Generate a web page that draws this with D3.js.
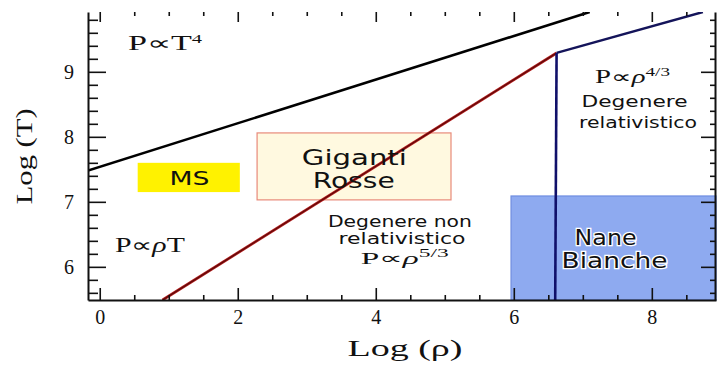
<!DOCTYPE html>
<html>
<head>
<meta charset="utf-8">
<script src="https://cdn.jsdelivr.net/npm/d3@7"></script>
<style>
  body { margin: 0; background: #fff; }
</style>
</head>
<body>
<div id="content"></div>
<script>
// axis extent (log rho, log T)
var rhoExtent = [-0.17, 8.93];
var tExtent = [5.49, 9.92];
var rhoTicks = [0, 2, 4, 6, 8];
var tTicks = [6, 7, 8, 9];

// boundary lines: [log rho, log T]
var radLine = [[-0.17, 7.48], [7.1, 9.92]];
var nonRelLine = [[0.91, 5.49], [6.62, 9.29]];
var relLine = [[6.62, 9.29], [8.74, 9.92]];
var wdLine = [[6.62, 9.29], [6.60, 5.49]];

// regions: rho0, rho1, t0, t1
var msBox = [0.55, 2.03, 7.15, 7.60];
var rgBox = [2.28, 5.09, 7.03, 8.06];
var wdBox = [5.96, 8.93, 5.49, 7.09];

var SERIF = '"Liberation Serif", "Times New Roman", serif';
var SANS = '"DejaVu Sans", Verdana, sans-serif';

var width = 717, height = 365;
var pad = { left: 88, right: 1, top: 12, bottom: 65 };

var svg = d3.select("#content").append("svg")
    .attr("width", width)
    .attr("height", height);

var x = d3.scaleLinear().domain(rhoExtent).range([pad.left, width - pad.right]);
var y = d3.scaleLinear().domain(tExtent).range([height - pad.bottom, pad.top]);

svg.append("clipPath").attr("id", "plot")
    .append("rect")
    .attr("x", x(rhoExtent[0])).attr("y", y(tExtent[1]))
    .attr("width", x(rhoExtent[1]) - x(rhoExtent[0]))
    .attr("height", y(tExtent[0]) - y(tExtent[1]));

function fit(sel, w) {
    sel.attr("textLength", w).attr("lengthAdjust", "spacingAndGlyphs");
    return sel;
}

function box(b, fill, stroke) {
    svg.append("rect")
        .attr("x", x(b[0])).attr("y", y(b[3]))
        .attr("width", x(b[1]) - x(b[0]))
        .attr("height", y(b[2]) - y(b[3]))
        .attr("fill", fill)
        .attr("stroke", stroke || "none")
        .attr("stroke-width", 1.2);
}

box(msBox, "#fff200");
box(rgBox, "#fff9e0", "#e88a7a");
box(wdBox, "#8eaaf0", "#6f8ee0");

var line = d3.line().x(d => x(d[0])).y(d => y(d[1]));
var g = svg.append("g").attr("clip-path", "url(#plot)");

g.append("path").attr("d", line(radLine)).attr("fill", "none")
    .attr("stroke", "#000").attr("stroke-width", 2.6);
g.append("path").attr("d", line(nonRelLine)).attr("fill", "none")
    .attr("stroke", "#b01818").attr("stroke-width", 2.8);
g.append("path").attr("d", line(nonRelLine)).attr("fill", "none")
    .attr("stroke", "#5a0a0a").attr("stroke-width", 1.2);
g.append("path").attr("d", line(relLine)).attr("fill", "none")
    .attr("stroke", "#14145a").attr("stroke-width", 2.4);
g.append("path").attr("d", line(wdLine)).attr("fill", "none")
    .attr("stroke", "#10106a").attr("stroke-width", 2.6);

// axes with inward ticks
function axis(gen, tr, vals, size, fmt, pd) {
    var a = svg.append("g").attr("transform", tr)
        .call(gen.tickValues(vals).tickSizeInner(size).tickSizeOuter(0)
            .tickPadding(pd || 3).tickFormat(fmt || ""));
    a.selectAll("line").attr("stroke", "#111").attr("stroke-width", 1.6);
    a.select(".domain").attr("stroke", "#111").attr("stroke-width", 2);
    return a;
}

var rhoMinor = d3.range(0, 9.0, 0.5).filter(v => rhoTicks.indexOf(v) < 0);
var tMinor = d3.range(5.6, 9.95, 0.2).map(v => +v.toFixed(1)).filter(v => tTicks.indexOf(v) < 0);
var yb = y(tExtent[0]), yt = y(tExtent[1]);
var xl = x(rhoExtent[0]), xr = x(rhoExtent[1]) - 1;

var bx = axis(d3.axisBottom(x), "translate(0," + yb + ")", rhoTicks, -12, d3.format("d"), 10);
bx.selectAll("text").style("font-family", SERIF).style("font-size", "20px").attr("fill", "#111");
axis(d3.axisBottom(x), "translate(0," + yb + ")", rhoMinor, -5).select(".domain").remove();

var ly = axis(d3.axisLeft(y), "translate(" + xl + ",0)", tTicks, -18, d3.format("d"), 14);
ly.selectAll("text").style("font-family", SERIF).style("font-size", "20px").attr("fill", "#111");
axis(d3.axisLeft(y), "translate(" + xl + ",0)", tMinor, -10).select(".domain").remove();

axis(d3.axisTop(x), "translate(0," + yt + ")", rhoTicks, -10).select(".domain").remove();
axis(d3.axisTop(x), "translate(0," + yt + ")", rhoMinor, -4).select(".domain").remove();
axis(d3.axisRight(y), "translate(" + xr + ",0)", tTicks, -14);
axis(d3.axisRight(y), "translate(" + xr + ",0)", tMinor, -5).select(".domain").remove();

// axis titles
fit(svg.append("text")
    .attr("x", 405).attr("y", y(tExtent[0]) + 56)
    .attr("text-anchor", "middle")
    .style("font-family", SERIF).style("font-size", "23px").attr("fill", "#111")
    .text("Log  (\u03c1)"), 115);

fit(svg.append("text")
    .attr("transform", "translate(32," + y(7.7) + ") rotate(-90)")
    .attr("text-anchor", "middle")
    .style("font-family", SERIF).style("font-size", "23px").attr("fill", "#111")
    .text("Log  (T)"), 96);

// formula labels: P ∝ ...
function formula(px, py, anchor, parts, w, size) {
    var t = svg.append("text")
        .attr("x", x(px)).attr("y", y(py))
        .attr("text-anchor", anchor)
        .style("font-family", SERIF).style("font-size", (size || 20) + "px").attr("fill", "#111");
    parts.forEach(function (p) {
        var s = t.append("tspan").text(p[0]);
        if (p[1] == "i") s.attr("font-style", "italic");
        if (p[1] == "sup") s.attr("font-size", 12).attr("dy", -7);
    });
    fit(t, w);
    return t;
}
formula(0.41, 9.34, "start", [["P\u221dT"], ["4", "sup"]], 74);
formula(0.22, 6.23, "start", [["P\u221d"], ["\u03c1", "i"], ["T"]], 70);
formula(4.42, 6.04, "middle", [["P\u221d"], ["\u03c1", "i"], ["5/3", "sup"]], 88, 17);
formula(7.72, 8.83, "middle", [["P\u221d"], ["\u03c1", "i"], ["4/3", "sup"]], 75, 18);

function label(px, py, txt, size, w) {
    return fit(svg.append("text")
        .attr("x", x(px)).attr("y", y(py))
        .attr("text-anchor", "middle")
        .style("font-family", SANS).style("font-size", size + "px").attr("fill", "#111")
        .text(txt), w);
}

label(4.35, 6.62, "Degenere non", 15, 144);
label(4.38, 6.35, "relativistico", 15, 127);
label(7.75, 8.46, "Degenere", 16, 106);
label(7.8, 8.14, "relativistico", 16, 118);
label(1.30, 7.26, "MS", 19, 40).attr("font-weight", 500);
label(3.69, 7.57, "Giganti", 21, 105);
label(3.68, 7.22, "Rosse", 21, 82);
label(7.33, 6.34, "Nane", 22, 62)
    .attr("stroke", "#fff").attr("stroke-width", 2.5).attr("paint-order", "stroke");
label(7.46, 5.98, "Bianche", 22, 106)
    .attr("stroke", "#fff").attr("stroke-width", 2.5).attr("paint-order", "stroke");
</script>
</body>
</html>
